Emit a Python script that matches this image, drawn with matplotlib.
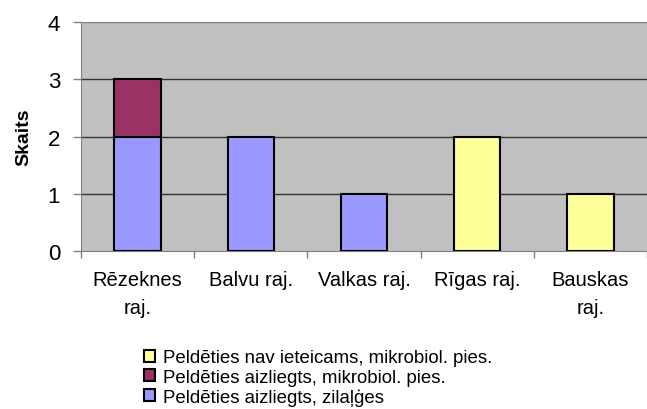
import matplotlib
matplotlib.use("Agg")
import matplotlib.pyplot as plt
import numpy as np

plt.rcParams['font.family'] = ['Liberation Sans', 'DejaVu Sans']

categories = ["Rēzeknes\nraj.", "Balvu raj.", "Valkas raj.", "Rīgas raj.", "Bauskas\nraj."]
zilalges = [2, 2, 1, 0, 0]
aizliegts_mikro = [1, 0, 0, 0, 0]
nav_ieteicams = [0, 0, 0, 2, 1]
series_labels = ["Peldēties aizliegts, zilaļģes",
                 "Peldēties aizliegts, mikrobiol. pies.",
                 "Peldēties nav ieteicams, mikrobiol. pies."]
colors = ["#9999FF", "#993366", "#FFFF99"]
yticks = [0, 1, 2, 3, 4]

fig = plt.figure(figsize=(6.47, 4.10), dpi=100)
ax = fig.add_axes([81/647, 1-252/410, 566/647, 229/410])
ax.set_facecolor("#C0C0C0")

x = np.arange(len(categories))
w = 0.41
bottom = np.zeros(len(categories))
handles = []
for vals, col, lab in zip([zilalges, aizliegts_mikro, nav_ieteicams], colors, series_labels):
    vals = np.array(vals, dtype=float)
    mask = vals > 0
    h = ax.bar(x[mask], vals[mask], w, bottom=bottom[mask], color=col,
               edgecolor="black", linewidth=1.5, zorder=3, label=lab)
    handles.append(h)
    bottom += vals

ax.set_xlim(-0.5, len(categories) - 0.5)
ax.set_ylim(0, 4)
ax.set_yticks(yticks)
ax.set_yticklabels([str(t) for t in yticks], fontsize=16)
for t in yticks[1:]:
    ax.axhline(t, color="#333333" if t < 4 else "#808080", linewidth=1, zorder=1)

ax.set_xticks(np.arange(len(categories) + 1) - 0.5, minor=False)
ax.set_xticklabels([])
ax.set_xticks(x, minor=True)
ax.set_xticklabels(categories, minor=True, fontsize=14.5, linespacing=1.6)
ax.tick_params(axis='x', which='minor', length=0, pad=14)
ax.tick_params(axis='x', which='major', length=5, color="#808080", width=1)
ax.tick_params(axis='y', length=6, color="#808080", width=1, pad=9)

for s in ["top", "right"]:
    ax.spines[s].set_visible(False)
ax.spines["left"].set_color("#808080")
ax.spines["bottom"].set_color("#808080")

ax.set_ylabel("Skaits", fontsize=14, fontweight="bold", labelpad=11)

leg = fig.legend(handles[::-1], series_labels[::-1], loc="upper left",
                 bbox_to_anchor=(135/647, 1-341/410), frameon=False,
                 fontsize=13.4, handlelength=0.6, handleheight=0.6,
                 handletextpad=0.4, labelspacing=0.12, borderpad=0)

fig.savefig("out.png", dpi=100)
